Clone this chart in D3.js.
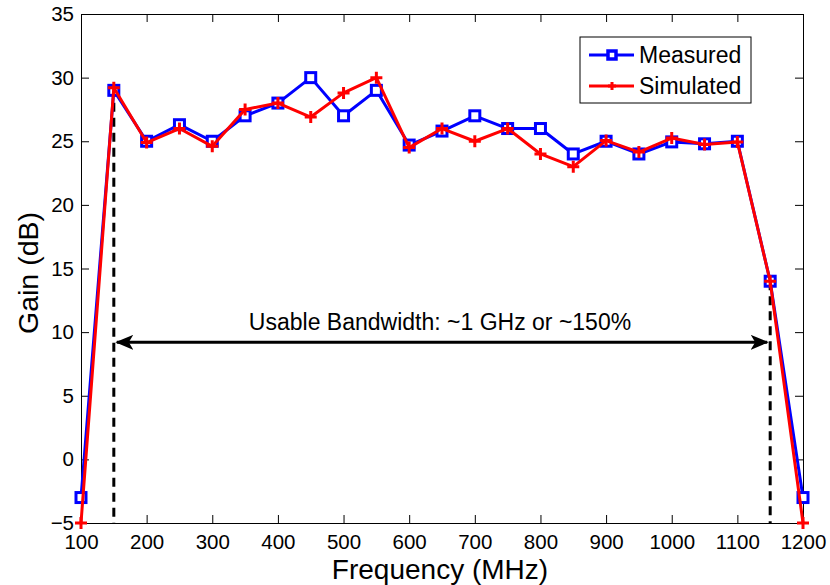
<!DOCTYPE html>
<html>
<head>
<meta charset="utf-8">
<script src="https://cdn.jsdelivr.net/npm/d3@7"></script>
<style>
  html, body { margin: 0; padding: 0; background: #fff; }
  svg { display: block; font-family: "Liberation Sans", Arial, sans-serif; }
</style>
</head>
<body>
<svg id="chart" width="830" height="585"></svg>
<script>
// Frequency points (MHz)
const frequencies = [100, 150, 200, 250, 300, 350, 400, 450, 500, 550, 600, 650,
                     700, 750, 800, 850, 900, 950, 1000, 1050, 1100, 1150, 1200];
// Gain (dB)
const measured  = [-3, 29, 25, 26.3, 25, 27, 28, 30, 27, 29, 24.7, 25.8,
                   27, 26, 26, 24, 25, 24, 24.95, 24.8, 25, 14, -3];
const simulated = [-5, 29.2, 24.9, 26, 24.6, 27.5, 28, 26.9, 28.8, 30, 24.5, 26,
                   25, 26, 24, 23, 25.05, 24.15, 25.25, 24.75, 24.95, 14, -5];

const xTicks = [100, 200, 300, 400, 500, 600, 700, 800, 900, 1000, 1100, 1200];
const yTicks = [-5, 0, 5, 10, 15, 20, 25, 30, 35];

// Usable band edges and annotation
const bandEdges = [150, 1150];
const bandArrowGain = 9.2;
const bandLabel = "Usable Bandwidth: ~1 GHz or ~150%";

const svg = d3.select("#chart");
const margin = { left: 81, right: 27, top: 14, bottom: 62 };
const W = 830, H = 585;
const x = d3.scaleLinear().domain([100, 1200]).range([margin.left, W - margin.right]);
const y = d3.scaleLinear().domain([-5, 35]).range([H - margin.bottom, margin.top]);

const tickLen = 8;
// Frame with inward ticks on all four sides
const axisBottom = d3.axisBottom(x).tickValues(xTicks).tickSizeInner(-tickLen).tickSizeOuter(0).tickPadding(11)
  .tickFormat(d3.format("d"));
const axisLeft = d3.axisLeft(y).tickValues(yTicks).tickSizeInner(-tickLen).tickSizeOuter(0).tickPadding(7)
  .tickFormat(d => d < 0 ? "\u2212" + Math.abs(d) : d);
const axisTop = d3.axisTop(x).tickValues(xTicks).tickSizeInner(-tickLen).tickSizeOuter(0).tickFormat("");
const axisRight = d3.axisRight(y).tickValues(yTicks).tickSizeInner(-tickLen).tickSizeOuter(0).tickFormat("");

function styleAxis(g) {
  g.select(".domain").attr("stroke", "#000").attr("stroke-width", 1);
  g.selectAll(".tick line").attr("stroke", "#000").attr("stroke-width", 1);
  g.selectAll(".tick text").attr("fill", "#000").style("font-size", "20.5px")
    .style("font-family", "'Liberation Sans', Arial, sans-serif");
}

svg.append("g").attr("transform", `translate(0,${y(-5)})`).call(axisBottom).call(styleAxis);
svg.append("g").attr("transform", `translate(${x(100)},0)`).call(axisLeft).call(styleAxis);
svg.append("g").attr("transform", `translate(0,${y(35)})`).call(axisTop).call(styleAxis);
svg.append("g").attr("transform", `translate(${x(1200)},0)`).call(axisRight).call(styleAxis);

// Dashed band-edge markers
const edgeTop = [29.2, 14];
bandEdges.forEach((f, i) => {
  svg.append("line")
    .attr("x1", x(f)).attr("x2", x(f))
    .attr("y1", y(edgeTop[i])).attr("y2", y(-5))
    .attr("stroke", "#000").attr("stroke-width", 3)
    .attr("stroke-dasharray", "9,6");
});

// Double-headed arrow across the band
const defs = svg.append("defs");
function arrowHead(id, orient) {
  defs.append("marker").attr("id", id)
    .attr("viewBox", "0 0 12 10").attr("refX", 11).attr("refY", 5)
    .attr("markerWidth", 6).attr("markerHeight", 5)
    .attr("markerUnits", "strokeWidth")
    .attr("orient", orient)
    .append("path").attr("d", "M0,0 L12,5 L0,10 L3,5 Z").attr("fill", "#000");
}
arrowHead("arrowEnd", "auto");
arrowHead("arrowStart", "auto-start-reverse");
svg.append("line")
  .attr("x1", x(bandEdges[0]) + 3).attr("x2", x(bandEdges[1]) - 3)
  .attr("y1", y(bandArrowGain)).attr("y2", y(bandArrowGain))
  .attr("stroke", "#000").attr("stroke-width", 3)
  .attr("marker-start", "url(#arrowStart)")
  .attr("marker-end", "url(#arrowEnd)");
svg.append("text")
  .attr("x", x((bandEdges[0] + bandEdges[1]) / 2) - 2)
  .attr("y", y(bandArrowGain) - 12)
  .attr("text-anchor", "middle")
  .style("font-size", "23px")
  .text(bandLabel);

// Series
const line = d3.line().x(d => x(d[0])).y(d => y(d[1]));
const measPts = frequencies.map((f, i) => [f, measured[i]]);
const simPts = frequencies.map((f, i) => [f, simulated[i]]);

svg.append("path").datum(measPts).attr("d", line)
  .attr("fill", "none").attr("stroke", "#0000ff").attr("stroke-width", 3)
  .attr("stroke-linejoin", "round");
svg.append("g").selectAll("rect").data(measPts).join("rect")
  .attr("x", d => x(d[0]) - 5).attr("y", d => y(d[1]) - 5)
  .attr("width", 10).attr("height", 10)
  .attr("fill", "#fff").attr("stroke", "#0000ff").attr("stroke-width", 3);

svg.append("path").datum(simPts).attr("d", line)
  .attr("fill", "none").attr("stroke", "#ff0000").attr("stroke-width", 3)
  .attr("stroke-linejoin", "round");
const plus = "M-6,0 L6,0 M0,-6 L0,6";
svg.append("g").selectAll("path").data(simPts).join("path")
  .attr("transform", d => `translate(${x(d[0])},${y(d[1])})`)
  .attr("d", plus).attr("stroke", "#ff0000").attr("stroke-width", 3).attr("fill", "none");

// Axis titles
svg.append("text")
  .attr("x", x(650) - 2).attr("y", 579)
  .attr("text-anchor", "middle").style("font-size", "28px")
  .text("Frequency (MHz)");
svg.append("text")
  .attr("transform", `translate(38,273) rotate(-90)`)
  .attr("text-anchor", "middle").style("font-size", "28.5px")
  .text("Gain (dB)");

// Legend
const legend = svg.append("g").attr("transform", "translate(580,37)");
legend.append("rect").attr("width", 171).attr("height", 66)
  .attr("fill", "#fff").attr("stroke", "#000").attr("stroke-width", 1);
const entries = [
  { name: "Measured", color: "#0000ff", type: "square" },
  { name: "Simulated", color: "#ff0000", type: "plus" }
];
entries.forEach((e, i) => {
  const cy = 18 + i * 31;
  const g = legend.append("g");
  g.append("line").attr("x1", 9).attr("x2", 54).attr("y1", cy).attr("y2", cy)
    .attr("stroke", e.color).attr("stroke-width", 3);
  if (e.type === "square") {
    g.append("rect").attr("x", 32 - 4).attr("y", cy - 4).attr("width", 8).attr("height", 8)
      .attr("fill", "#fff").attr("stroke", e.color).attr("stroke-width", 3.5);
  } else {
    g.append("path").attr("transform", `translate(32,${cy})`).attr("d", "M-4,0 L4,0 M0,-4 L0,4")
      .attr("stroke", e.color).attr("stroke-width", 3);
  }
  g.append("text").attr("x", 59).attr("y", cy + 8).style("font-size", "23px").text(e.name);
});
</script>
</body>
</html>
